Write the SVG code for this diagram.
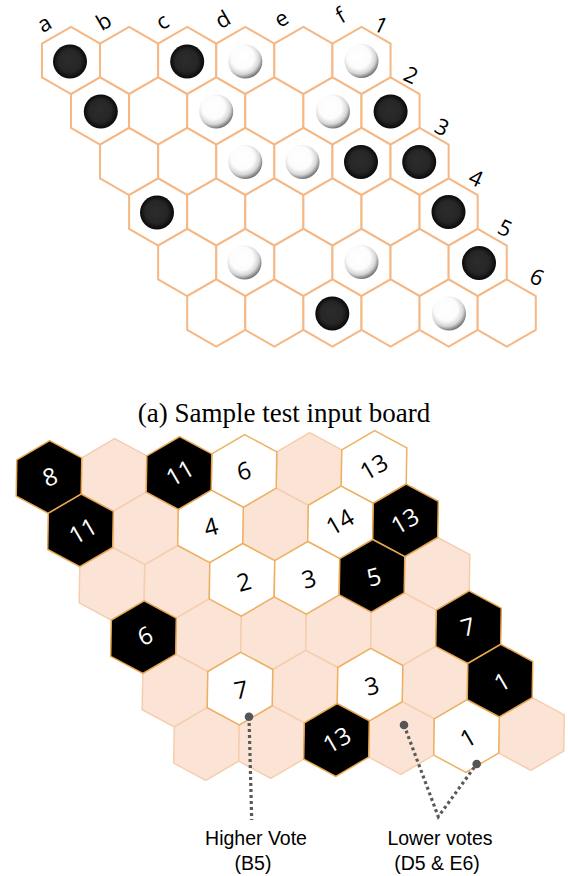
<svg xmlns="http://www.w3.org/2000/svg" xmlns:xlink="http://www.w3.org/1999/xlink" width="568" height="876" viewBox="0 0 568 876">
<style>
.th{fill:#fff;stroke:#F5B784;stroke-width:2}
.pk{fill:#FBE4D6;stroke:#F6CDAE;stroke-width:1.5}
.bk{fill:#000;stroke:#E8A650;stroke-width:1.5}
.wh{fill:#fff;stroke:#EDB060;stroke-width:1.5}
.lb{font-family:"Open Sans","DejaVu Sans",sans-serif;font-size:22px;fill:#000;text-anchor:middle}
.nw{font-family:"Open Sans","DejaVu Sans",sans-serif;font-size:24px;fill:#fff;text-anchor:middle}
.nk{font-family:"Open Sans","DejaVu Sans",sans-serif;font-size:24px;fill:#000;text-anchor:middle}
.cap{font-family:"Liberation Serif","Times New Roman",serif;font-size:27px;fill:#000;text-anchor:middle}
.ann{font-family:"Liberation Sans",Arial,sans-serif;font-size:19.5px;fill:#000;text-anchor:middle}
.sb{fill:url(#gb)}
.sw{fill:url(#gw)}
.dl{fill:none;stroke:#595959;stroke-width:3.2;stroke-dasharray:3 3}
.dot{fill:#555}
</style>
<defs>
<path id="ht" d="M0,-33.6L29.05,-16.9L29.05,16.9L0,33.6L-29.05,16.9L-29.05,-16.9Z"/>
<path id="hb" d="M0.67,-36.3L32.8,-19.1L32.2,17.1L-0.67,36.3L-32.8,19.1L-32.2,-17.1Z"/>
<radialGradient id="gb" cx="50%" cy="50%" r="50%" fx="45%" fy="45%">
<stop offset="0" stop-color="#2c2c2c"/><stop offset="0.65" stop-color="#262626"/><stop offset="0.85" stop-color="#161616"/><stop offset="1" stop-color="#080808"/>
</radialGradient>
<radialGradient id="gw" cx="42%" cy="38%" r="62%">
<stop offset="0" stop-color="#fff"/><stop offset="0.55" stop-color="#fcfcfc"/><stop offset="0.8" stop-color="#d6d6d6"/><stop offset="1" stop-color="#777"/>
</radialGradient>
</defs>

<g id="top-labels">
<text class="lb" transform="translate(45,25) rotate(-30)" y="6">a</text>
<text class="lb" transform="translate(104,22) rotate(-30)" y="7">b</text>
<text class="lb" transform="translate(163,23) rotate(-30)" y="6">c</text>
<text class="lb" transform="translate(223,20) rotate(-30)" y="7">d</text>
<text class="lb" transform="translate(282,20) rotate(-30)" y="6">e</text>
<text class="lb" transform="translate(341,16) rotate(-30)" y="7">f</text>
<text class="lb" transform="translate(381,25) rotate(25)" y="8">1</text>
<text class="lb" transform="translate(411,75) rotate(25)" y="8">2</text>
<text class="lb" transform="translate(442,127) rotate(25)" y="8">3</text>
<text class="lb" transform="translate(476,178) rotate(25)" y="8">4</text>
<text class="lb" transform="translate(505,228) rotate(25)" y="8">5</text>
<text class="lb" transform="translate(537,277) rotate(25)" y="8">6</text>
</g>

<g id="top-board">
<g id="t-a1"><use href="#ht" class="th" x="71" y="60.5"/><circle class="sb" cx="70" cy="61.5" r="17"/></g>
<g id="t-b1"><use href="#ht" class="th" x="129.1" y="60.5"/></g>
<g id="t-c1"><use href="#ht" class="th" x="187.2" y="60.5"/><circle class="sb" cx="187.2" cy="61.5" r="17"/></g>
<g id="t-d1"><use href="#ht" class="th" x="245.3" y="60.5"/><circle class="sw" cx="245.3" cy="61.5" r="17"/></g>
<g id="t-e1"><use href="#ht" class="th" x="303.4" y="60.5"/></g>
<g id="t-f1"><use href="#ht" class="th" x="361.5" y="60.5"/><circle class="sw" cx="361.5" cy="61" r="17"/></g>

<g id="t-a2"><use href="#ht" class="th" x="100.05" y="111"/><circle class="sb" cx="100.8" cy="111.5" r="17"/></g>
<g id="t-b2"><use href="#ht" class="th" x="158.15" y="111"/></g>
<g id="t-c2"><use href="#ht" class="th" x="216.25" y="111"/><circle class="sw" cx="216.25" cy="111.5" r="17"/></g>
<g id="t-d2"><use href="#ht" class="th" x="274.35" y="111"/></g>
<g id="t-e2"><use href="#ht" class="th" x="332.45" y="111"/><circle class="sw" cx="333" cy="111.5" r="17"/></g>
<g id="t-f2"><use href="#ht" class="th" x="390.55" y="111"/><circle class="sb" cx="390.6" cy="111.5" r="17"/></g>

<g id="t-a3"><use href="#ht" class="th" x="129.1" y="161.5"/></g>
<g id="t-b3"><use href="#ht" class="th" x="187.2" y="161.5"/></g>
<g id="t-c3"><use href="#ht" class="th" x="245.3" y="161.5"/><circle class="sw" cx="245.3" cy="162" r="17"/></g>
<g id="t-d3"><use href="#ht" class="th" x="303.4" y="161.5"/><circle class="sw" cx="302.5" cy="162" r="17"/></g>
<g id="t-e3"><use href="#ht" class="th" x="361.5" y="161.5"/><circle class="sb" cx="361" cy="162" r="17"/></g>
<g id="t-f3"><use href="#ht" class="th" x="419.6" y="161.5"/><circle class="sb" cx="419.2" cy="162" r="17"/></g>

<g id="t-a4"><use href="#ht" class="th" x="158.15" y="212"/><circle class="sb" cx="157" cy="212.5" r="17"/></g>
<g id="t-b4"><use href="#ht" class="th" x="216.25" y="212"/></g>
<g id="t-c4"><use href="#ht" class="th" x="274.35" y="212"/></g>
<g id="t-d4"><use href="#ht" class="th" x="332.45" y="212"/></g>
<g id="t-e4"><use href="#ht" class="th" x="390.55" y="212"/></g>
<g id="t-f4"><use href="#ht" class="th" x="448.65" y="212"/><circle class="sb" cx="448.5" cy="212" r="17"/></g>

<g id="t-a5"><use href="#ht" class="th" x="187.2" y="262.5"/></g>
<g id="t-b5"><use href="#ht" class="th" x="245.3" y="262.5"/><circle class="sw" cx="244.5" cy="262.5" r="17"/></g>
<g id="t-c5"><use href="#ht" class="th" x="303.4" y="262.5"/></g>
<g id="t-d5"><use href="#ht" class="th" x="361.5" y="262.5"/><circle class="sw" cx="361.5" cy="262" r="17"/></g>
<g id="t-e5"><use href="#ht" class="th" x="419.6" y="262.5"/></g>
<g id="t-f5"><use href="#ht" class="th" x="477.7" y="262.5"/><circle class="sb" cx="479" cy="263" r="17"/></g>

<g id="t-a6"><use href="#ht" class="th" x="216.25" y="313"/></g>
<g id="t-b6"><use href="#ht" class="th" x="274.35" y="313"/></g>
<g id="t-c6"><use href="#ht" class="th" x="332.45" y="313"/><circle class="sb" cx="332.3" cy="313.5" r="17"/></g>
<g id="t-d6"><use href="#ht" class="th" x="390.55" y="313"/></g>
<g id="t-e6"><use href="#ht" class="th" x="448.65" y="313"/><circle class="sw" cx="449" cy="313.5" r="17"/></g>
<g id="t-f6"><use href="#ht" class="th" x="506.75" y="313"/></g>
</g>

<text id="caption-a" class="cap" x="284" y="422">(a) Sample test input board</text>

<g id="bottom-board">
<g id="b-b1"><use href="#hb" class="pk" x="114" y="475"/></g>
<g id="b-e1"><use href="#hb" class="pk" x="309" y="469"/></g>
<g id="b-b2"><use href="#hb" class="pk" x="145.5" y="528.4"/></g>
<g id="b-d2"><use href="#hb" class="pk" x="275.5" y="524.4"/></g>
<g id="b-a3"><use href="#hb" class="pk" x="112" y="583.8"/></g>
<g id="b-b3"><use href="#hb" class="pk" x="177" y="581.8"/></g>
<g id="b-f3"><use href="#hb" class="pk" x="437" y="573.8"/></g>
<g id="b-b4"><use href="#hb" class="pk" x="208.5" y="635.2"/></g>
<g id="b-c4"><use href="#hb" class="pk" x="273.5" y="633.2"/></g>
<g id="b-d4"><use href="#hb" class="pk" x="338.5" y="631.2"/></g>
<g id="b-e4"><use href="#hb" class="pk" x="403.5" y="629.2"/></g>
<g id="b-a5"><use href="#hb" class="pk" x="175" y="690.6"/></g>
<g id="b-c5"><use href="#hb" class="pk" x="305" y="686.6"/></g>
<g id="b-e5"><use href="#hb" class="pk" x="435" y="682.6"/></g>
<g id="b-a6"><use href="#hb" class="pk" x="206.5" y="744"/></g>
<g id="b-b6"><use href="#hb" class="pk" x="271.5" y="742"/></g>
<g id="b-d6"><use href="#hb" class="pk" x="401.5" y="738"/></g>
<g id="b-f6"><use href="#hb" class="pk" x="531.5" y="734"/></g>

<g id="b-d1"><use href="#hb" class="wh" x="244" y="471"/><text class="nk" transform="translate(244,471) rotate(-15)" y="8.5">6</text></g>
<g id="b-f1"><use href="#hb" class="wh" x="374" y="467"/><text class="nk" transform="translate(374,467) rotate(-30)" y="8.5">13</text></g>
<g id="b-c2"><use href="#hb" class="wh" x="210.5" y="526.4"/><text class="nk" transform="translate(211,527) rotate(-15)" y="8.5">4</text></g>
<g id="b-e2"><use href="#hb" class="wh" x="340.5" y="522.4"/><text class="nk" transform="translate(340,522) rotate(-30)" y="8.5">14</text></g>
<g id="b-c3"><use href="#hb" class="wh" x="242" y="579.8"/><text class="nk" transform="translate(244,582) rotate(-15)" y="8.5">2</text></g>
<g id="b-d3"><use href="#hb" class="wh" x="307" y="577.8"/><text class="nk" transform="translate(309,579) rotate(-15)" y="8.5">3</text></g>
<g id="b-b5"><use href="#hb" class="wh" x="240" y="688.6"/><text class="nk" transform="translate(241,690) rotate(-10)" y="8.5">7</text></g>
<g id="b-d5"><use href="#hb" class="wh" x="370" y="684.6"/><text class="nk" transform="translate(372,686) rotate(-15)" y="8.5">3</text></g>
<g id="b-e6"><use href="#hb" class="wh" x="466.5" y="736"/><text class="nk" transform="translate(468,738) rotate(-30)" y="8.5">1</text></g>

<g id="b-a1"><use href="#hb" class="bk" x="49" y="477"/><text class="nw" transform="translate(50,477) rotate(-20)" y="8.5">8</text></g>
<g id="b-c1"><use href="#hb" class="bk" x="179" y="473"/><text class="nw" transform="translate(180,473) rotate(-30)" y="8.5">11</text></g>
<g id="b-a2"><use href="#hb" class="bk" x="80.5" y="530.4"/><text class="nw" transform="translate(83,531) rotate(-30)" y="8.5">11</text></g>
<g id="b-f2"><use href="#hb" class="bk" x="405.5" y="520.4"/><text class="nw" transform="translate(405,521) rotate(-30)" y="8.5">13</text></g>
<g id="b-e3"><use href="#hb" class="bk" x="372" y="575.8"/><text class="nw" transform="translate(374,577) rotate(-15)" y="8.5">5</text></g>
<g id="b-a4"><use href="#hb" class="bk" x="143.5" y="637.2"/><text class="nw" transform="translate(145,636) rotate(-25)" y="8.5">6</text></g>
<g id="b-f4"><use href="#hb" class="bk" x="468.5" y="627.2"/><text class="nw" transform="translate(468,627) rotate(-15)" y="8.5">7</text></g>
<g id="b-f5"><use href="#hb" class="bk" x="500" y="680.6"/><text class="nw" transform="translate(502,682) rotate(-30)" y="8.5">1</text></g>
<g id="b-c6"><use href="#hb" class="bk" x="336.5" y="740"/><text class="nw" transform="translate(337,740) rotate(-30)" y="8.5">13</text></g>
</g>

<g id="connectors">
<path class="dl" d="M249,717L251.7,820"/>
<path class="dl" d="M404,725L438.3,816.7L476.7,764"/>
<circle class="dot" cx="249" cy="716.7" r="4.3"/>
<circle class="dot" cx="404" cy="725" r="4.3"/>
<circle class="dot" cx="476.7" cy="764" r="4.3"/>
</g>

<g id="annotations">
<text class="ann" x="256" y="845">Higher Vote</text>
<text class="ann" x="253" y="870">(B5)</text>
<text class="ann" x="440" y="845">Lower votes</text>
<text class="ann" x="437" y="870">(D5 &amp; E6)</text>
</g>
</svg>
